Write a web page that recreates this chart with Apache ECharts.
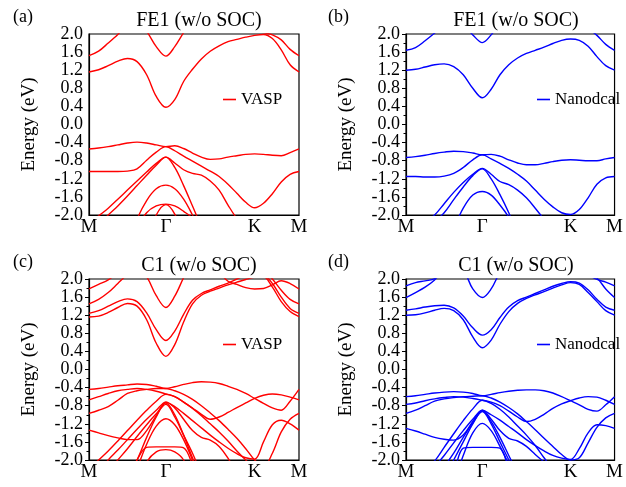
<!DOCTYPE html>
<html><head><meta charset="utf-8">
<script src="https://cdn.jsdelivr.net/npm/echarts@6/dist/echarts.min.js"></script>
<style>html,body{margin:0;padding:0;background:#fff}#c{width:626px;height:487px}</style>
</head><body><div id="c"></div>
<script>
// k-path sample positions (M - Gamma - K - M, hexagonal path lengths)
const kPath = [0,0.0722,0.1443,0.2165,0.2887,0.3608,0.4330,0.5052,0.5774,
  0.6441,0.7107,0.7774,0.8441,0.9107,0.9774,1.0441,1.1107,1.1774,1.2441,
  1.3107,1.3774,1.4441,1.5107,1.5774];
const kTicks = [0, 0.5774, 1.2441, 1.5774];
const kLabels = ['M', 'Γ', 'K', 'M'];
const panelTitles = ['FE1 (w/o SOC)', 'FE1 (w/o SOC)', 'C1 (w/o SOC)', 'C1 (w/o SOC)'];
const panelTags = ['(a)', '(b)', '(c)', '(d)'];
const methods = ['VASP', 'Nanodcal', 'VASP', 'Nanodcal'];

// (a) FE1 VASP
const a_c1 = [1.16,1.21,1.30,1.40,1.46,1.39,1.10,0.62,0.38, 0.55,0.95,1.22,1.45,1.62,1.74,1.83,1.88,1.93,1.97, 1.99,1.90,1.65,1.32,1.16];
const a_c2 = [1.52,1.62,1.80,1.99,2.20,2.30,2.06,1.72,1.51, 1.72,2.03,2.30,2.45,2.50,2.50,2.45,2.35,2.20,2.08, 2.03,1.98,1.87,1.66,1.52];
const a_v1 = [-0.54,-0.52,-0.49,-0.45,-0.41,-0.39,-0.41,-0.45,-0.49, -0.47,-0.53,-0.63,-0.72,-0.77,-0.76,-0.72,-0.69,-0.66,-0.65, -0.66,-0.68,-0.69,-0.62,-0.54];
const a_v2 = [-1.04,-1.04,-1.04,-1.04,-1.03,-0.98,-0.79,-0.61,-0.49, -0.58,-0.70,-0.81,-0.92,-1.03,-1.15,-1.32,-1.52,-1.72,-1.84, -1.74,-1.53,-1.27,-1.10,-1.04];
const a_v3 = [-2.20,-2.02,-1.85,-1.65,-1.45,-1.25,-1.05,-0.86,-0.72, -0.85,-1.00,-1.08,-1.12,-1.25,-1.45,-1.78,-2.08,-2.30,-2.50, -2.50,-2.50,-2.50,-2.50,-2.50];
const a_v4 = [-2.45,-2.22,-2.00,-1.80,-1.58,-1.35,-1.12,-0.90,-0.72, -0.95,-1.35,-1.80,-2.25,-2.60,-2.80,-2.90,-3,-3,-3, -3,-3,-3,-3,-3];
const a_v5 = [-3,-3,-3,-3,-2.80,-2.10,-1.68,-1.42,-1.34, -1.42,-1.65,-2.00,-2.40,-2.80,-3,-3,-3,-3,-3, -3,-3,-3,-3,-3];
const a_v6 = [-3,-3,-3,-3,-3,-2.30,-1.95,-1.80,-1.76, -1.80,-1.92,-2.08,-2.50,-3,-3,-3,-3,-3,-3, -3,-3,-3,-3,-3];
const a_v7 = [-3,-3,-3,-3,-3,-3,-2.60,-2.00,-1.77, -1.98,-2.50,-3,-3,-3,-3,-3,-3,-3,-3, -3,-3,-3,-3,-3];

// (b) FE1 Nanodcal
const b_c1 = [1.20,1.22,1.27,1.32,1.34,1.28,1.10,0.80,0.59, 0.78,1.10,1.32,1.47,1.57,1.64,1.71,1.79,1.86,1.89, 1.86,1.73,1.50,1.30,1.20];
const b_c2 = [1.64,1.70,1.85,2.02,2.20,2.30,2.20,1.98,1.81, 1.98,2.25,2.50,2.60,2.60,2.60,2.55,2.50,2.45,2.35, 2.25,2.12,1.97,1.77,1.64];
const b_v1 = [-0.73,-0.71,-0.68,-0.64,-0.61,-0.59,-0.60,-0.63,-0.67, -0.66,-0.70,-0.78,-0.85,-0.89,-0.89,-0.86,-0.82,-0.79,-0.78, -0.79,-0.80,-0.80,-0.76,-0.73];
const b_v2 = [-1.15,-1.15,-1.16,-1.16,-1.14,-1.08,-0.95,-0.78,-0.67, -0.76,-0.86,-0.97,-1.10,-1.25,-1.45,-1.65,-1.82,-1.95,-1.99, -1.88,-1.62,-1.32,-1.18,-1.15];
const b_v3 = [-2.50,-2.35,-2.15,-2.00,-1.75,-1.50,-1.28,-1.10,-0.97, -1.10,-1.26,-1.33,-1.45,-1.62,-1.85,-2.10,-2.40,-2.60,-2.70, -2.70,-2.70,-2.70,-2.70,-2.70];
const b_v4 = [-2.75,-2.55,-2.35,-2.15,-1.95,-1.66,-1.38,-1.13,-0.98, -1.20,-1.55,-1.95,-2.40,-2.80,-3,-3,-3,-3,-3, -3,-3,-3,-3,-3];
const b_v5 = [-3,-3,-3,-3,-2.80,-2.30,-1.85,-1.56,-1.48, -1.56,-1.78,-2.05,-2.40,-2.80,-3,-3,-3,-3,-3, -3,-3,-3,-3,-3];

// (c) C1 VASP
const c_c1 = [1.16,1.18,1.26,1.37,1.46,1.40,1.10,0.58,0.29, 0.55,1.05,1.45,1.64,1.73,1.80,1.87,1.93,1.99,2.04, 2.05,1.82,1.50,1.28,1.17];
const c_c2 = [1.24,1.30,1.40,1.50,1.56,1.50,1.25,0.88,0.64, 0.85,1.22,1.53,1.68,1.76,1.84,1.91,2.00,2.08,2.12, 2.10,1.90,1.60,1.35,1.24];
const c_c3 = [1.45,1.55,1.70,1.90,2.10,2.25,2.05,1.63,1.37, 1.62,2.03,2.40,2.50,2.50,2.50,2.50,2.45,2.40,2.35, 2.20,2.00,1.75,1.55,1.45];
const c_c4 = [1.78,1.88,1.98,2.15,2.40,2.50,2.60,2.60,2.60, 2.60,2.60,2.50,2.40,2.30,2.15,1.95,1.88,1.81,1.78, 1.79,1.87,1.96,1.90,1.78];
const c_v1 = [-0.44,-0.42,-0.39,-0.36,-0.34,-0.32,-0.33,-0.37,-0.42, -0.38,-0.33,-0.29,-0.27,-0.28,-0.31,-0.37,-0.44,-0.53,-0.64, -0.75,-0.85,-0.90,-0.70,-0.44];
const c_v2 = [-0.67,-0.60,-0.53,-0.47,-0.44,-0.42,-0.44,-0.48,-0.54, -0.60,-0.72,-0.85,-0.99,-1.10,-1.05,-0.95,-0.84,-0.74,-0.64, -0.57,-0.54,-0.56,-0.61,-0.67];
const c_v3 = [-0.97,-0.90,-0.82,-0.68,-0.53,-0.47,-0.44,-0.42,-0.42, -0.47,-0.55,-0.66,-0.80,-0.96,-1.13,-1.32,-1.52,-1.75,-2.00, -2.15,-1.85,-1.38,-1.10,-0.97];
const c_v4 = [-1.34,-1.40,-1.46,-1.51,-1.55,-1.55,-1.35,-1.02,-0.72, -0.82,-0.97,-1.13,-1.29,-1.45,-1.60,-1.74,-1.86,-1.95,-1.98, -1.60,-1.22,-1.12,-1.20,-1.34];
const c_v5 = [-2.20,-2.00,-1.80,-1.58,-1.35,-1.12,-0.90,-0.70,-0.55, -0.60,-0.72,-0.86,-1.02,-1.20,-1.38,-1.58,-1.80,-2.00,-2.20, -2.40,-2.50,-2.50,-2.50,-2.50];
const c_v6 = [-2.50,-2.30,-2.00,-1.78,-1.55,-1.32,-1.10,-0.90,-0.72, -0.85,-1.10,-1.35,-1.50,-1.56,-1.70,-1.96,-2.30,-2.60,-2.80, -3,-3,-3,-3,-3];
const c_v7 = [-2.70,-2.50,-2.25,-2.00,-1.75,-1.48,-1.22,-0.98,-0.77, -1.05,-1.45,-1.85,-2.30,-2.70,-3,-3,-3,-3,-3, -3,-3,-3,-3,-3];
const c_v8 = [-3,-3,-3,-2.70,-2.40,-2.00,-1.50,-1.05,-0.74, -1.00,-1.45,-1.95,-2.40,-2.80,-3,-3,-3,-3,-3, -3,-3,-3,-3,-3];
const c_v9 = [-3,-3,-3,-3,-2.80,-2.20,-1.65,-1.25,-1.09, -1.22,-1.55,-2.00,-2.50,-3,-3,-3,-3,-3,-3, -3,-3,-3,-3,-3];
const c_v10 = [-3,-3,-3,-2.80,-2.40,-2.00,-1.72,-1.71,-1.71, -1.71,-1.73,-2.10,-2.60,-3,-3,-3,-3,-3,-3, -3,-3,-3,-3,-3];
const c_v11 = [-3,-3,-3,-3,-3,-2.60,-2.05,-1.82,-1.77, -1.82,-2.00,-2.50,-3,-3,-3,-3,-3,-3,-3, -3,-3,-3,-3,-3];

// (d) C1 Nanodcal
const d_c1 = [1.20,1.21,1.25,1.31,1.35,1.30,1.10,0.72,0.48, 0.65,1.00,1.28,1.46,1.57,1.65,1.72,1.80,1.87,1.92, 1.88,1.70,1.50,1.30,1.20];
const d_c2 = [1.31,1.34,1.38,1.41,1.42,1.36,1.18,0.92,0.76, 0.88,1.15,1.38,1.52,1.60,1.68,1.76,1.84,1.90,1.94, 1.91,1.76,1.55,1.38,1.31];
const d_c3 = [1.59,1.70,1.82,1.98,2.20,2.30,2.20,1.78,1.59, 1.78,2.15,2.40,2.50,2.50,2.50,2.50,2.50,2.45,2.40, 2.30,2.12,2.02,1.78,1.59];
const d_c4 = [1.85,1.92,1.96,2.01,2.30,2.50,2.60,2.60,2.60, 2.60,2.60,2.60,2.60,2.60,2.60,2.50,2.45,2.40,2.35, 2.30,2.10,1.99,1.93,1.85];
const d_v1 = [-0.60,-0.58,-0.55,-0.52,-0.50,-0.49,-0.50,-0.53,-0.58, -0.55,-0.51,-0.48,-0.46,-0.45,-0.45,-0.47,-0.52,-0.60,-0.69, -0.78,-0.88,-0.92,-0.78,-0.60];
const d_v2 = [-0.77,-0.74,-0.69,-0.65,-0.62,-0.60,-0.61,-0.64,-0.68, -0.72,-0.80,-0.92,-1.05,-1.15,-1.10,-0.99,-0.86,-0.76,-0.69, -0.63,-0.60,-0.61,-0.68,-0.77];
const d_v3 = [-0.97,-0.90,-0.80,-0.70,-0.65,-0.62,-0.60,-0.59,-0.58, -0.63,-0.72,-0.84,-0.98,-1.15,-1.33,-1.52,-1.70,-1.88,-2.00, -1.95,-1.62,-1.28,-1.07,-0.97];
const d_v4 = [-1.30,-1.36,-1.43,-1.50,-1.54,-1.56,-1.45,-1.15,-0.90, -1.00,-1.12,-1.26,-1.40,-1.55,-1.68,-1.80,-1.90,-1.96,-1.99, -1.75,-1.40,-1.22,-1.24,-1.30];
const d_v5 = [-2.60,-2.40,-2.20,-2.02,-1.72,-1.42,-1.13,-0.87,-0.68, -0.75,-0.88,-1.05,-1.25,-1.45,-1.68,-1.95,-2.20,-2.40,-2.50, -2.50,-2.50,-2.50,-2.50,-2.50];
const d_v6 = [-2.80,-2.60,-2.40,-2.15,-1.90,-1.62,-1.35,-1.10,-0.90, -1.10,-1.35,-1.52,-1.58,-1.70,-1.88,-2.05,-2.30,-2.60,-2.80, -3,-3,-3,-3,-3];
const d_v7 = [-3,-2.90,-2.70,-2.45,-2.15,-1.85,-1.50,-1.18,-0.93, -1.20,-1.60,-2.00,-2.40,-2.80,-3,-3,-3,-3,-3, -3,-3,-3,-3,-3];
const d_v8 = [-3,-3,-3,-2.70,-2.40,-2.00,-1.60,-1.20,-0.92, -1.15,-1.50,-1.90,-2.30,-2.70,-3,-3,-3,-3,-3, -3,-3,-3,-3,-3];
const d_v9 = [-3,-3,-3,-3,-3,-2.50,-1.90,-1.40,-1.19, -1.35,-1.70,-2.10,-2.60,-3,-3,-3,-3,-3,-3, -3,-3,-3,-3,-3];
const d_v10 = [-3,-3,-3,-3,-2.80,-2.30,-1.74,-1.72,-1.72, -1.72,-1.74,-2.20,-2.70,-3,-3,-3,-3,-3,-3, -3,-3,-3,-3,-3];

const panelBands = [
  [a_c1,a_c2,a_v1,a_v2,a_v3,a_v4,a_v5,a_v6,a_v7],
  [b_c1,b_c2,b_v1,b_v2,b_v3,b_v4,b_v5],
  [c_c1,c_c2,c_c3,c_c4,c_v1,c_v2,c_v3,c_v4,c_v5,c_v6,c_v7,c_v8,c_v9,c_v10,c_v11],
  [d_c1,d_c2,d_c3,d_c4,d_v1,d_v2,d_v3,d_v4,d_v5,d_v6,d_v7,d_v8,d_v9,d_v10]
];
const colors = ['#ff0000', '#0000ff', '#ff0000', '#0000ff'];

const FONT = 'Liberation Serif';
const grids = [
  {left: 89, top: 34, width: 210, height: 181},
  {left: 406, top: 34, width: 211, height: 181},
  {left: 89, top: 279, width: 210, height: 181},
  {left: 406, top: 279, width: 211, height: 181}
];
const showTicks = [false, true, true, true];
const titleX = [194, 511, 194, 511];
const titleY = [6, 6, 251, 251];
const tagX = [8, 323, 8, 323];
const tagY = [3, 3, 248, 248];
const legendX = [218, 532, 218, 532];
const legendY = [86, 86, 331, 331];

const xAxes = [], yAxes = [], series = [], titles = [], legends = [];
for (let p = 0; p < 4; p++) {
  xAxes.push({
    type: 'value', gridIndex: p, min: 0, max: kPath[kPath.length - 1],
    axisLine: {show: true, onZero: false, lineStyle: {color: '#000', width: 1.2}},
    axisTick: {show: false},
    splitLine: {show: false},
    axisLabel: {
      customValues: kTicks, margin: 3, hideOverlap: false,
      fontFamily: FONT, fontSize: 19, color: '#000',
      formatter: v => { let bi = 0, bd = 1e9; kTicks.forEach((t, i) => { const d = Math.abs(t - v); if (d < bd) { bd = d; bi = i; } }); return kLabels[bi]; }
    }
  });
  yAxes.push({
    type: 'value', gridIndex: p, min: -2, max: 2, interval: 0.4,
    name: 'Energy (eV)', nameLocation: 'middle', nameGap: 50,
    nameTextStyle: {fontFamily: FONT, fontSize: 19, color: '#000'},
    axisLine: {show: true, onZero: false, lineStyle: {color: '#000', width: 1.2}},
    axisTick: {show: showTicks[p], inside: false, length: 4, lineStyle: {color: '#000'}},
    minorTick: {show: showTicks[p], splitNumber: 2, length: 2.5, lineStyle: {color: '#000'}},
    splitLine: {show: false},
    axisLabel: {
      margin: 6, fontFamily: FONT, fontSize: 18, color: '#000',
      interval: 0, showMinLabel: true, showMaxLabel: true, hideOverlap: false,
      lineHeight: 16,
      formatter: v => (Math.abs(v) < 1e-9 ? 0 : v).toFixed(1)
    }
  });
  titles.push({text: panelTitles[p], left: titleX[p], top: titleY[p], textAlign: 'center',
    textStyle: {fontFamily: FONT, fontSize: 20, fontWeight: 'normal', color: '#000'}});
  titles.push({text: panelTags[p], left: tagX[p], top: tagY[p],
    textStyle: {fontFamily: FONT, fontSize: 18, fontWeight: 'normal', color: '#000'}});
  legends.push({
    data: [methods[p]], left: legendX[p], top: legendY[p], icon: 'rect',
    itemWidth: 13, itemHeight: 1.6, itemGap: 5, selectedMode: false,
    textStyle: {fontFamily: FONT, fontSize: 17, color: '#000'}
  });
  panelBands[p].forEach(band => {
    series.push({
      type: 'line', name: methods[p], xAxisIndex: p, yAxisIndex: p,
      data: kPath.map((k, i) => [k, band[i]]),
      showSymbol: false, symbol: 'none', smooth: 0.35, clip: true,
      lineStyle: {color: colors[p], width: 1.4}, itemStyle: {color: colors[p]},
      silent: true, animation: false
    });
  });
}

const chart = echarts.init(document.getElementById('c'), null, {renderer: 'canvas'});
chart.setOption({
  backgroundColor: '#fff',
  animation: false,
  title: titles,
  legend: legends,
  grid: grids.map(g => Object.assign({show: true, borderColor: '#000', borderWidth: 1.2, backgroundColor: 'transparent', containLabel: false}, g)),
  xAxis: xAxes,
  yAxis: yAxes,
  series: series
});
</script></body></html>
